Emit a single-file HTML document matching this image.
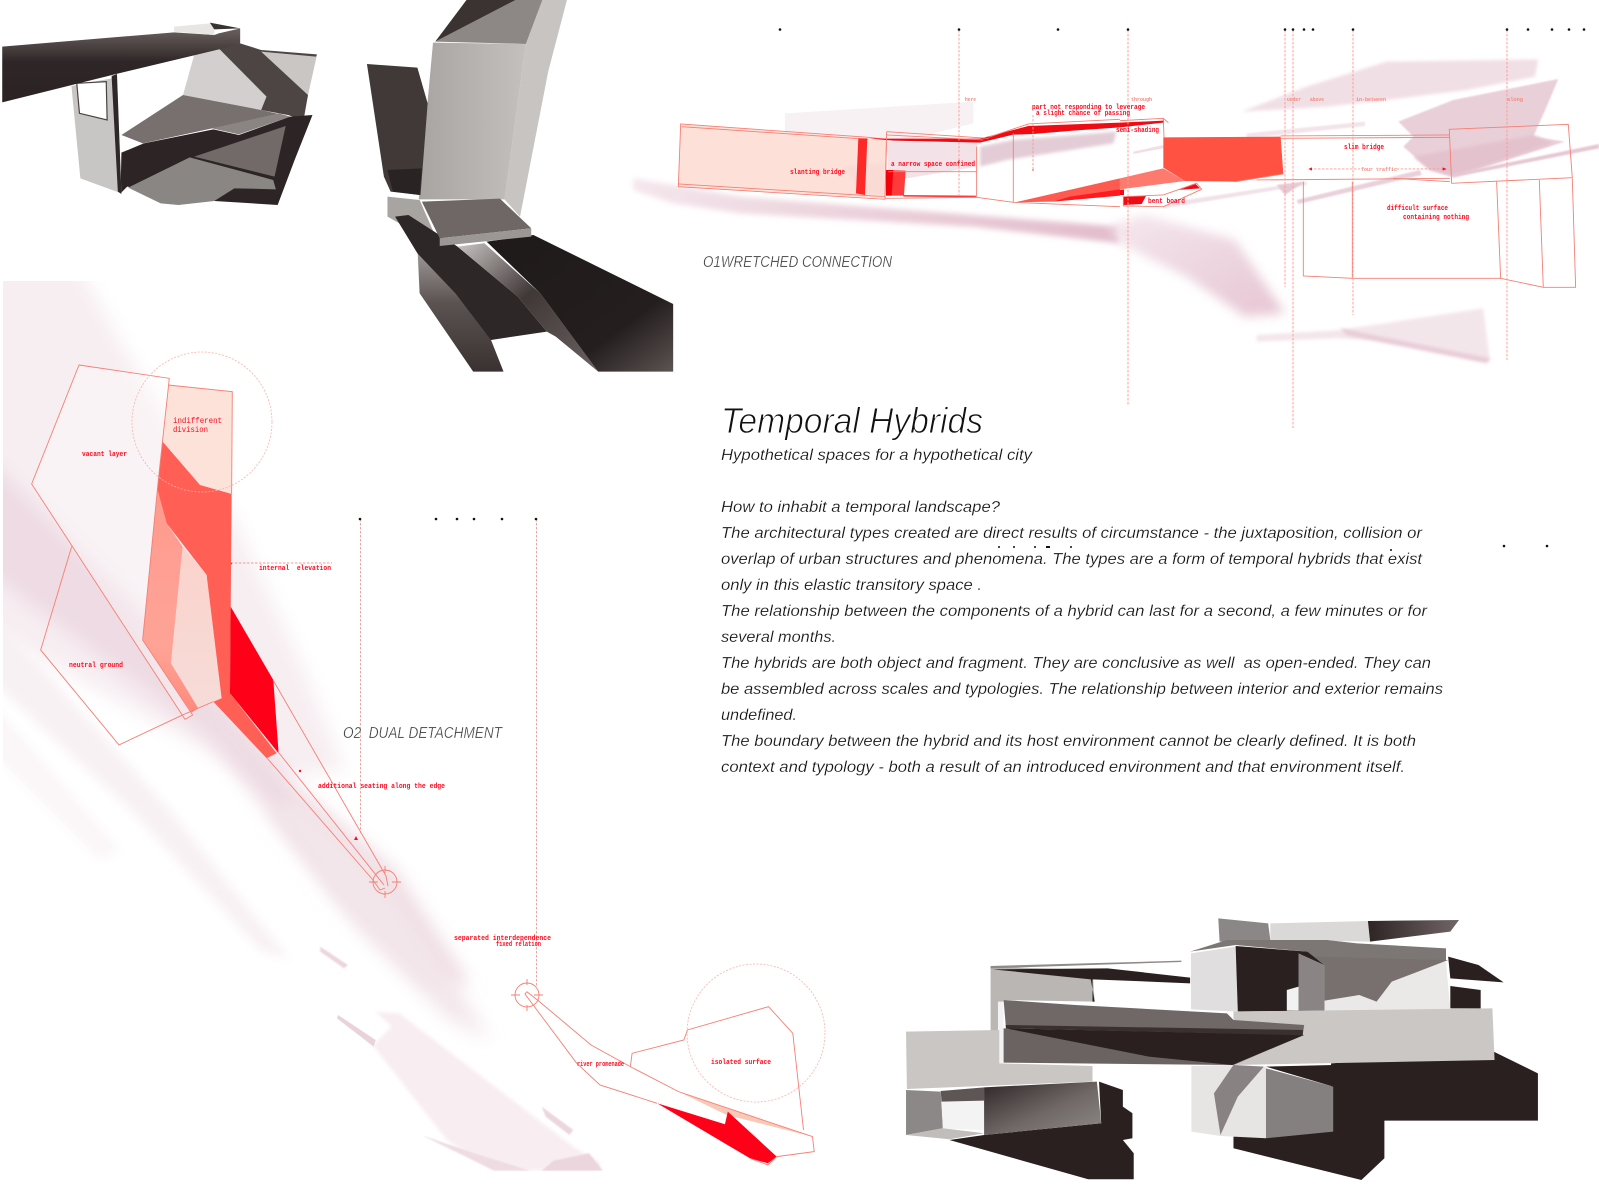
<!DOCTYPE html>
<html><head><meta charset="utf-8"><style>
html,body{margin:0;padding:0;background:#fff}
svg{display:block}
.o{fill:none;stroke:#f57f74;stroke-width:.9;vector-effect:non-scaling-stroke}
.d{fill:none;stroke:#f79a90;stroke-width:.9;stroke-dasharray:2.5 1.5;vector-effect:non-scaling-stroke}
.c{fill:none;stroke:#f8b3ac;stroke-width:.8;stroke-dasharray:2 1.5}
.m{font-family:"Liberation Mono",monospace;font-weight:700;fill:#ff0a1e;font-size:7px}
.p{font-family:"Liberation Mono",monospace;fill:#f58a7f;font-size:5.5px;font-weight:700}
.b{font-family:"Liberation Sans",sans-serif;font-style:italic;font-size:16px;fill:#111;stroke:#fff;stroke-width:.2}
.h{font-family:"Liberation Sans",sans-serif;font-style:italic;fill:#3a3a3a;stroke:#fff;stroke-width:.3}
</style></head><body>
<svg width="1599" height="1199" viewBox="0 0 1599 1199" xmlns="http://www.w3.org/2000/svg">
<defs>
<filter id="b2" x="-20%" y="-20%" width="140%" height="140%"><feGaussianBlur stdDeviation="2"/></filter>
<filter id="b5" x="-20%" y="-20%" width="140%" height="140%"><feGaussianBlur stdDeviation="5"/></filter>
<filter id="b9" x="-20%" y="-20%" width="140%" height="140%"><feGaussianBlur stdDeviation="9"/></filter>
<filter id="b16" x="-30%" y="-30%" width="160%" height="160%"><feGaussianBlur stdDeviation="16"/></filter>
<clipPath id="wc"><rect x="3" y="281" width="660" height="890"/></clipPath>
<linearGradient id="beamv" x1="0" y1="0" x2="0" y2="1"><stop offset="0" stop-color="#6b6060"/><stop offset=".45" stop-color="#2f2727"/><stop offset="1" stop-color="#2b2323"/></linearGradient>
<linearGradient id="grayv" x1="0" y1="0" x2="1" y2="0"><stop offset="0" stop-color="#a8a4a2"/><stop offset="1" stop-color="#c3c0be"/></linearGradient>
<linearGradient id="dk" x1="0" y1="0" x2="1" y2="1"><stop offset="0" stop-color="#c9c5c3"/><stop offset=".45" stop-color="#403737"/><stop offset="1" stop-color="#6a6260"/></linearGradient>
<linearGradient id="dk2" x1="0" y1="0" x2="1" y2="1"><stop offset="0" stop-color="#1f1a1a"/><stop offset=".7" stop-color="#241e1e"/><stop offset="1" stop-color="#5c5352"/></linearGradient>
<linearGradient id="side" x1="0" y1="0" x2="0" y2="1"><stop offset="0" stop-color="#a5a09e"/><stop offset=".45" stop-color="#5b5352"/><stop offset="1" stop-color="#3a3231"/></linearGradient>
<linearGradient id="sal" x1="0" y1="0" x2="0" y2="1"><stop offset="0" stop-color="#ff9a8e"/><stop offset=".7" stop-color="#ffa397"/><stop offset="1" stop-color="#ff8a7c"/></linearGradient>
<linearGradient id="pale" x1="0" y1="0" x2="0" y2="1"><stop offset="0" stop-color="#fbd2cb"/><stop offset="1" stop-color="#f6dcd8"/></linearGradient>
<linearGradient id="sw" x1="0" y1="0" x2="1" y2="0"><stop offset="0" stop-color="#2e2424"/><stop offset="1" stop-color="#716665"/></linearGradient>
<linearGradient id="ww" x1="0" y1="0" x2="1" y2="1"><stop offset="0" stop-color="#2e2626"/><stop offset=".55" stop-color="#6f6867"/><stop offset="1" stop-color="#8e8988"/></linearGradient>
<linearGradient id="st" x1="0" y1="0" x2="1" y2="0"><stop offset="0" stop-color="#f4e6ec"/><stop offset=".6" stop-color="#e9cbd6"/><stop offset="1" stop-color="#e2bccc"/></linearGradient>
<linearGradient id="blob" x1="0" y1="0" x2="1" y2="1"><stop offset="0" stop-color="#f5e8ee"/><stop offset=".6" stop-color="#ecd3dd"/><stop offset="1" stop-color="#e6c6d3"/></linearGradient>
</defs>

<!-- LEFT WASH -->
<g clip-path="url(#wc)">
<polygon fill="#f7eef2" points="-30,250 70,250 125,350 235,520 300,660 345,770 260,780 -30,620" filter="url(#b9)"/>
<polygon fill="#eedbe3" points="-30,440 120,590 300,790 395,870 470,985 430,985 340,900 210,740 -30,560" filter="url(#b9)"/>
<polygon fill="#f3e6ea" points="300,800 370,860 440,960 490,1040 450,1020 360,930 270,810" filter="url(#b9)"/>
<polygon fill="#f8f1f4" points="-10,610 170,810 290,960 260,950 130,810 -10,680" filter="url(#b5)"/>
<polygon fill="#fbf6f8" points="-10,700 120,850 100,860 -10,750" filter="url(#b5)"/>
<g transform="translate(0,800) scale(.3954,.3333)">
<polygon fill="#f8eef1" points="855,645 945,735 990,680 950,635 1010,640 1450,1040 1520,1090 1510,1112 1250,1112 1130,1020 945,740" filter="url(#b5)"/>
<polygon fill="#ecd6de" points="810,440 880,495 870,505 810,455" filter="url(#b2)"/>
<polygon fill="#e9d3db" points="855,645 950,720 945,740 852,655"/>
<polygon fill="#ecd6de" points="1370,920 1450,990 1440,1005 1380,950" filter="url(#b2)"/>
<polygon fill="#efdce3" points="1065,1005 1200,1060 1340,1112 1250,1112" filter="url(#b2)"/>
<polygon fill="#ecd6de" points="1370,1112 1400,1082 1490,1060 1525,1112" filter="url(#b2)"/>
</g>
</g>

<!-- TOP WASHES -->
<g transform="translate(640,0) scale(.3333,.3333)">
<polygon fill="#f8f1f4" points="435,340 1000,305 1000,370 800,420 435,400"/>
<polygon fill="url(#st)" points="-20,535 300,590 800,630 1440,680 1440,730 1000,680 300,640 100,610 -20,570" filter="url(#b9)"/>
<polygon fill="#e3ccd6" points="1020,440 1120,420 1430,395 1420,430 1100,480 1020,500" filter="url(#b5)"/>
<polygon fill="#f3dfe4" points="600,500 700,480 740,520 640,560" filter="url(#b5)"/>
</g>
<g transform="translate(1120,0) scale(.3333,.3333)">
<polygon fill="#f1dfe6" points="365,335 560,260 800,185 1255,178 1245,230 1040,270 800,300 620,320" filter="url(#b5)"/>
<polygon fill="#e9cfd8" points="835,365 1000,300 1315,237 1280,320 1240,410 1335,425 1000,530 930,510 850,440 880,410" filter="url(#b2)"/>
<polygon fill="#e3c2ce" points="880,470 1240,405 1300,430 1000,530 930,510" filter="url(#b5)"/>
<polygon fill="#e6c8d4" points="1000,522 1437,432 1437,445 1000,532" filter="url(#b2)"/>
<polygon fill="#e9d0da" points="530,600 900,510 905,525 535,612" filter="url(#b2)"/>
<polygon fill="#f0e0e6" points="40,455 130,435 130,445 40,462"/>
<polygon fill="#f1e2e8" points="130,610 560,545 560,555 130,625" filter="url(#b2)"/>
<polygon fill="#f2e4ea" points="380,400 735,365 735,378 380,415" filter="url(#b2)"/>
<polygon fill="#e6c9d4" points="470,555 555,545 495,585" filter="url(#b2)"/>
<polygon fill="url(#blob)" points="-30,680 70,645 345,720 495,940 375,950 200,830 0,730" filter="url(#b16)"/>
<polygon fill="#f3e6eb" points="410,1005 660,990 1090,925 1110,1085 760,1020 650,1015 410,1025" filter="url(#b5)"/>
<polygon fill="#e8ccd7" points="660,985 1110,1075 1100,1090 680,1005" filter="url(#b5)"/>
</g>

<!-- TOP LEFT MODELS -->
<g transform="scale(.4464,.3333)">
<polygon fill="#c9c6c4" points="585,155 710,165 690,285"/>
<polygon fill="#d2cfce" points="435,165 490,145 597,290 585,330 410,285"/>
<polygon fill="#4d4444" points="490,145 538,130 585,150 710,163 708,170 585,155 690,285 680,360 645,345 585,330 597,290"/>
<polygon fill="#77706e" points="410,285 585,330 645,348 475,385 320,430 272,405"/>
<polygon fill="#8a8583" points="475,385 625,340 650,350 535,403"/>
<polygon fill="#2d2525" points="272,458 322,430 478,388 535,405 650,350 700,345 660,480 622,615 480,603 285,560 270,580"/>
<polygon fill="#716a68" points="435,470 640,378 615,530"/>
<polygon fill="#8a8684" points="287,563 425,472 612,540 618,568 525,565 480,603 400,615 360,610"/>
<polygon fill="#c8c6c4" points="160,258 250,235 262,222 272,580 180,535"/>
<polygon fill="#2f2828" points="250,228 262,222 272,582 264,575"/>
<polygon fill="#fff" stroke="#4a4242" stroke-width="1.2" vector-effect="non-scaling-stroke" points="172,250 238,245 240,360 178,340"/>
<polygon fill="url(#beamv)" points="5,140 390,97 480,105 490,100 538,85 538,130 500,145 260,222 5,307"/>
<polygon fill="#e8e6e4" points="390,80 470,70 480,85 480,105 390,95"/>
<polygon fill="#3a3232" points="470,68 538,85 480,88"/>

<polygon fill="#c7c4c2" points="1178,132 1215,0 1270,0 1228,215 1165,650 1130,598"/>
<polygon fill="#8d8785" points="975,125 1090,45 1155,0 1215,0 1178,132"/>
<polygon fill="#3b3232" points="975,125 1045,0 1155,0 1090,45"/>
<polygon fill="url(#grayv)" points="970,128 1178,132 1130,598 938,598"/>
<polygon fill="#403938" points="822,192 935,203 958,310 942,585 875,575 860,530"/>
<polygon fill="#2a2323" points="868,510 945,505 940,585 880,575"/>
<polygon fill="#a8a4a2" points="868,590 940,600 985,738 868,650"/>
<polygon fill="url(#side)" points="935,740 1030,745 1100,1020 1128,1115 1060,1115 940,880"/>
<polygon fill="#2e2727" points="885,650 915,645 1025,740 1160,890 1225,995 1100,1020 1020,880 935,760"/>
<polygon fill="url(#dk)" points="1025,740 1085,730 1210,880 1340,1115 1245,1010 1225,995 1160,890"/>
<polygon fill="url(#dk2)" points="1090,725 1195,705 1508,912 1508,1115 1340,1115 1210,880"/>
<polygon fill="#6e6765" points="945,605 1120,596 1190,685 985,715"/>
<polygon fill="#9b9795" points="985,715 1190,685 1190,710 985,738"/>
</g>

<!-- BOTTOM MODEL -->
<g transform="translate(880,890) scale(.4337,.3333)">
<polygon fill="#2a2020" points="1040,520 1415,485 1517,550 1517,692 1163,692 1163,805 1110,870 815,775 815,740 1040,720"/>
<polygon fill="#2a2020" points="160,750 240,735 510,700 505,575 560,600 560,650 582,670 582,745 560,750 585,790 585,868 480,868"/>
<polygon fill="#2a2020" points="1310,200 1380,225 1438,277 1315,265"/>
<polygon fill="#2a2020" points="1315,288 1385,300 1385,355 1315,355"/>
<polygon fill="#8b8786" points="780,85 895,100 900,150 783,155"/>
<polygon fill="#dbd9d8" points="900,100 1125,93 1130,155 900,150"/>
<polygon fill="url(#sw)" points="1125,93 1335,90 1315,125 1130,155"/>
<polygon fill="#7c7675" points="715,185 800,150 1030,150 1100,160 1305,175 1305,210 1000,212 985,185 820,165"/>
<polygon fill="#e0dede" points="717,190 820,170 825,365 717,358"/>
<polygon fill="#2a2020" points="820,168 985,185 1025,225 1025,362 825,364"/>
<polygon fill="#8a8584" points="965,190 1025,225 1025,362 965,362"/>
<polygon fill="#f3f2f2" points="938,300 965,290 965,362 938,362"/>
<polygon fill="#ebe9e8" points="1025,225 1305,215 1315,358 1025,362"/>
<polygon fill="#77706f" points="1000,200 1310,210 1230,250 1180,275 1145,335 1105,315 1025,332 1025,225"/>
<polygon fill="#b9b6b4" points="255,230 490,240 495,335 285,330 275,425 255,425"/>
<polygon fill="#f3f2f2" points="272,335 285,335 285,520 272,520"/>
<polygon fill="#8f8a88" points="255,228 695,212 695,216 255,235"/>
<polygon fill="#2a2020" points="260,238 525,235 715,263 715,280 490,268 490,335 495,335 486,268"/>
<polygon fill="#cac7c5" points="815,365 1412,355 1417,510 815,525"/>
<polygon fill="#6a6362" points="285,415 975,435 815,525 285,518"/>
<polygon fill="#2a2020" points="290,415 978,435 812,525 620,500"/>
<polygon fill="#6f6866" points="285,330 450,345 800,370 815,390 978,405 975,432 290,408"/>
<polygon fill="#3a3030" points="290,405 975,420 975,436 290,415"/>
<polygon fill="#c9c6c4" points="60,425 275,420 275,520 490,528 490,575 62,597"/>
<polygon fill="#8c8887" points="60,600 140,605 145,715 60,735"/>
<polygon fill="#f4f3f3" points="142,635 240,632 240,720 145,716"/>
<polygon fill="#5e5655" points="140,603 240,592 240,632 142,635"/>
<polygon fill="url(#ww)" points="240,592 500,575 510,700 240,735"/>
<polygon fill="#c0bdbb" points="60,735 145,715 240,730 160,748"/>
<polygon fill="#e7e5e4" points="718,528 815,525 890,530 890,745 785,738 718,725"/>
<polygon fill="#858080" points="890,535 1045,590 1045,725 890,745"/>
<polygon fill="#2a2020" points="890,530 1045,525 1045,590"/>
<polygon fill="#888382" points="770,610 815,525 885,530 825,620 785,735"/>
</g>

<!-- DIAGRAM 1 -->
<g transform="translate(640,0) scale(.3333,.3333)">
<polygon fill="#fde1d9" points="122,372 685,415 740,418 735,595 115,560"/>
<polygon class="o" points="122,372 685,412 740,418 735,598 115,560"/>
<polyline class="o" points="125,380 685,418"/>
<polyline class="o" points="115,552 735,590"/>
<polygon fill="#f7d6d2" points="610,500 735,490 735,590 680,580 640,540" filter="url(#b5)" opacity=".6"/>
<polygon fill="#fff" points="745,425 1010,430 1010,590 745,585"/>
<polygon fill="#f3e3e9" points="740,425 1012,428 1012,500 800,535 745,515"/>
<polygon fill="#ff2828" points="655,415 682,415 675,585 648,580"/>
<polygon fill="#f00a14" points="685,415 740,416 1020,416 1165,378 1440,368 1440,382 1300,392 1180,402 1120,404 1020,428 760,422"/>
<polygon fill="#ff3a3a" points="738,510 797,512 792,587 738,587"/>
<polygon fill="#f4000a" points="738,510 760,510 755,587 738,587"/>
<polygon fill="#ff3b3b" points="790,585 1008,587 1008,592 790,590"/>
<polyline class="o" points="740,395 1045,415"/>
<polyline class="o" points="740,405 1030,420"/>
<polyline class="o" points="740,395 735,595 1010,592 1120,607 1440,620"/>
<polyline class="o" points="745,515 1010,515"/>
<polyline class="o" points="1010,440 1010,592"/>
<polyline class="o" points="1120,400 1120,607"/>
<polyline class="o" points="1045,412 1165,372 1440,358"/>
<polygon fill="#ff5a4f" points="1125,607 1440,535 1440,585 1240,605"/>
<polygon fill="#ff1a20" points="1290,590 1440,568 1440,587 1240,605"/>
</g>
<g transform="translate(1120,0) scale(.3333,.3333)">
<polyline class="o" points="0,362 130,355 145,368"/>
<polyline class="o" points="130,355 132,412"/>
<polygon fill="#f00a14" points="0,368 130,362 130,368 0,382"/>
<polygon fill="#ff5242" points="130,412 482,410 490,522 345,545 195,543 130,503"/>
<polygon fill="#ff7a6e" points="0,535 130,505 195,543 0,568"/>
<polygon fill="#fff" points="10,590 130,585 230,550 245,568 130,620 10,618"/>
<polygon fill="#f00a14" points="10,590 78,588 65,612 10,615"/>
<polygon fill="#f00a14" points="0,570 12,568 12,585 0,585"/>
<polygon fill="#f00a14" points="170,570 225,550 240,565"/>
<polygon class="o" points="10,590 130,585 230,550 245,568 130,620 10,618"/>
<polyline class="o" points="482,408 990,405"/>
<polyline class="o" points="482,415 990,412"/>
<polyline class="o" points="345,545 490,522"/>
<polyline class="o" points="410,540 990,535"/>
<polyline class="o" points="820,535 990,545"/>
<polygon class="o" points="988,388 1345,373 1357,533 995,550"/>
<polyline class="o" points="550,545 550,828 697,835 1142,835 1130,545"/>
<polyline class="o" points="697,545 697,835"/>
<polyline class="o" points="1142,835 1270,862 1367,862 1357,535"/>
<polyline class="o" points="1258,540 1270,862"/>
<polyline class="d" points="570,507 720,507"/>
<polyline class="d" points="830,507 972,507"/>
<polygon fill="#ff0a1e" points="565,507 576,502 576,512"/>
<polygon fill="#ff0a1e" points="980,507 968,502 968,512"/>
</g>

<!-- DASHED LEADERS -->
<g class="d">
<line x1="959" y1="30" x2="959" y2="195"/>
<line x1="1128" y1="30" x2="1128" y2="406"/>
<line x1="1285" y1="30" x2="1285" y2="287"/>
<line x1="1293" y1="30" x2="1293" y2="428"/>
<line x1="1353" y1="30" x2="1353" y2="315"/>
<line x1="1507" y1="30" x2="1507" y2="360"/>
<line x1="1033" y1="115" x2="1033" y2="170"/>
<line x1="360.5" y1="519" x2="360.5" y2="833"/>
<line x1="536.5" y1="519" x2="536.5" y2="987"/>
<line x1="231" y1="563" x2="332" y2="563"/>
</g>
<circle cx="1033" cy="170" r=".9" fill="#f4756a"/>
<circle cx="231" cy="563.5" r="1" fill="#ff0a1e"/>

<!-- DIAGRAM 2 -->
<g transform="translate(0,340) scale(.3333,.3333)">
<polygon fill="#fff" fill-opacity=".3" points="237,75 508,115 428,900 578,1125 555,1138 95,432"/>
<polygon fill="#fde2d9" points="505,135 697,155 695,462 600,435 488,300"/>
<polygon fill="#ff5f55" points="488,305 600,435 695,462 690,1060 830,1240 800,1255 640,1085 620,705 500,550 472,450"/>
<polygon fill="url(#sal)" points="473,450 500,550 548,620 513,970 595,1105 575,1118 428,900"/>
<polygon fill="url(#pale)" points="548,620 620,705 665,1075 595,1105 513,970"/>
<polygon fill="#ff0019" points="692,800 820,1020 836,1240 690,1060"/>
<polyline class="o" points="505,135 697,155 695,462"/>
<polygon class="o" points="237,75 508,115 475,420 428,900 578,1125 555,1138 95,432"/>
<polyline class="o" points="215,620 122,930 357,1215 548,1125"/>
<polyline class="o" points="640,1085 548,1125"/>
</g>
<circle class="c" cx="202" cy="422" r="70"/>
<polyline class="o" points="273,680 386,876 388,886"/>
<polyline class="o" points="267,758 373,880 380,890 385,888"/>
<polyline class="o" points="279,753 384,885"/>
<circle class="o" cx="385" cy="882" r="12"/>
<path class="o" d="M369 882H378M392 882H401M385 866V873M385 891V898"/>
<circle cx="300" cy="771" r="1.2" fill="#ff0a1e"/>
<polygon fill="#ff0a1e" points="356,836 358,840 354,840"/>

<circle class="c" cx="756" cy="1033" r="69"/>
<g transform="translate(300,720) scale(.3571,.3333)">
<polygon fill="#f9c9b8" points="1060,1115 1200,1165 1435,1250 1195,1185"/>
<polygon fill="#ff0019" points="1000,1150 1190,1213 1198,1175 1335,1310 1310,1330 1260,1315"/>
<polyline class="o" points="635,815 665,840 815,975 925,1040 1060,1115 1435,1250 1440,1295 1335,1310"/>
<polyline class="o" points="635,815 630,822 775,1030 840,1095 1000,1150"/>
<polyline class="o" points="925,1040 930,1000 1075,960 1085,930 1312,860 1380,940 1410,1230"/>
<polyline class="o" points="1260,1315 1310,1335 1335,1310"/>
</g>
<circle class="o" cx="527" cy="995" r="12"/>
<path class="o" d="M511 995H520M534 995H543M527 979V985M527 1005V1011"/>

<!-- DOTS -->
<g fill="#111">
<circle cx="780" cy="29.5" r="1.3"/><circle cx="959" cy="29.5" r="1.3"/><circle cx="1058" cy="29.5" r="1.3"/><circle cx="1128" cy="29.5" r="1.3"/>
<circle cx="1285" cy="29.5" r="1.3"/><circle cx="1293" cy="29.5" r="1.3"/><circle cx="1304" cy="29.5" r="1.3"/><circle cx="1313" cy="29.5" r="1.3"/>
<circle cx="1353" cy="29.5" r="1.3"/><circle cx="1507" cy="29.5" r="1.3"/><circle cx="1528" cy="29.5" r="1.3"/><circle cx="1552" cy="29.5" r="1.3"/>
<circle cx="1569" cy="29.5" r="1.3"/><circle cx="1584" cy="29.5" r="1.3"/>
<circle cx="360" cy="519" r="1.3"/><circle cx="436" cy="519" r="1.3"/><circle cx="457" cy="519" r="1.3"/><circle cx="474" cy="519" r="1.3"/><circle cx="502" cy="519" r="1.3"/><circle cx="536" cy="519" r="1.3"/>
<circle cx="999" cy="547" r="1"/><circle cx="1014" cy="547" r="1"/><circle cx="1035" cy="547" r="1"/><rect x="1046" y="546" width="4" height="2"/><circle cx="1071" cy="547" r="1"/><circle cx="1391" cy="550" r="1"/>
<circle cx="1504" cy="546" r="1.3"/><circle cx="1547" cy="546" r="1.3"/>
</g>

<!-- TEXT: body -->
<text x="721" y="433" font-family="'Liberation Sans',sans-serif" font-style="italic" font-size="36" fill="#111" stroke="#fff" stroke-width=".9" textLength="262" lengthAdjust="spacingAndGlyphs">Temporal Hybrids</text>
<text class="b" x="721" y="460" textLength="311" lengthAdjust="spacingAndGlyphs">Hypothetical spaces for a hypothetical city</text>
<text class="b" x="721" y="512" textLength="279" lengthAdjust="spacingAndGlyphs">How to inhabit a temporal landscape?</text>
<text class="b" x="721" y="538" textLength="701" lengthAdjust="spacingAndGlyphs">The architectural types created are direct results of circumstance - the juxtaposition, collision or</text>
<text class="b" x="721" y="564" textLength="701" lengthAdjust="spacingAndGlyphs">overlap of urban structures and phenomena. The types are a form of temporal hybrids that exist</text>
<text class="b" x="721" y="590" textLength="261" lengthAdjust="spacingAndGlyphs">only in this elastic transitory space .</text>
<text class="b" x="721" y="616" textLength="706" lengthAdjust="spacingAndGlyphs">The relationship between the components of a hybrid can last for a second, a few minutes or for</text>
<text class="b" x="721" y="642" textLength="115" lengthAdjust="spacingAndGlyphs">several months.</text>
<text class="b" x="721" y="668" textLength="710" lengthAdjust="spacingAndGlyphs" xml:space="preserve">The hybrids are both object and fragment. They are conclusive as well  as open-ended. They can</text>
<text class="b" x="721" y="694" textLength="722" lengthAdjust="spacingAndGlyphs">be assembled across scales and typologies. The relationship between interior and exterior remains</text>
<text class="b" x="721" y="720" textLength="76" lengthAdjust="spacingAndGlyphs">undefined.</text>
<text class="b" x="721" y="746" textLength="695" lengthAdjust="spacingAndGlyphs">The boundary between the hybrid and its host environment cannot be clearly defined. It is both</text>
<text class="b" x="721" y="772" textLength="684" lengthAdjust="spacingAndGlyphs">context and typology - both a result of an introduced environment and that environment itself.</text>

<text class="h" x="703" y="267" font-size="16" textLength="189" lengthAdjust="spacingAndGlyphs">O1WRETCHED CONNECTION</text>
<text class="h" x="343" y="738" font-size="16" textLength="159" lengthAdjust="spacingAndGlyphs" xml:space="preserve">O2  DUAL DETACHMENT</text>

<!-- TEXT: labels -->
<text class="m" x="790" y="174" textLength="55" lengthAdjust="spacingAndGlyphs">slanting bridge</text>
<text class="m" x="891" y="166" textLength="84" lengthAdjust="spacingAndGlyphs">a narrow space confined</text>
<text class="m" x="1032" y="109" textLength="113" lengthAdjust="spacingAndGlyphs">part not responding to leverage</text>
<text class="m" x="1036" y="115" textLength="94" lengthAdjust="spacingAndGlyphs">a slight chance of passing</text>
<text class="m" x="1116" y="132" textLength="43" lengthAdjust="spacingAndGlyphs">semi-shading</text>
<text class="m" x="1344" y="149" textLength="40" lengthAdjust="spacingAndGlyphs">slim bridge</text>
<text class="m" x="1148" y="203" textLength="37" lengthAdjust="spacingAndGlyphs">bent board</text>
<text class="m" x="1387" y="210" textLength="61" lengthAdjust="spacingAndGlyphs">difficult surface</text>
<text class="m" x="1403" y="219" textLength="66" lengthAdjust="spacingAndGlyphs">containing nothing</text>
<text class="p" x="965" y="101" textLength="11" lengthAdjust="spacingAndGlyphs">here</text>
<text class="p" x="1131" y="101" textLength="21" lengthAdjust="spacingAndGlyphs">through</text>
<text class="p" x="1287" y="101" textLength="14" lengthAdjust="spacingAndGlyphs">under</text>
<text class="p" x="1310" y="101" textLength="14" lengthAdjust="spacingAndGlyphs">above</text>
<text class="p" x="1356" y="101" textLength="30" lengthAdjust="spacingAndGlyphs">in-between</text>
<text class="p" x="1507" y="101" textLength="16" lengthAdjust="spacingAndGlyphs">along</text>
<text class="p" x="1361" y="171" textLength="36" lengthAdjust="spacingAndGlyphs">four traffic</text>
<text class="m" style="font-weight:400;font-size:8px" x="173" y="423" textLength="49" lengthAdjust="spacingAndGlyphs">indifferent</text>
<text class="m" style="font-weight:400;font-size:8px" x="173" y="432" textLength="35" lengthAdjust="spacingAndGlyphs">division</text>
<text class="m" x="82" y="456" textLength="45" lengthAdjust="spacingAndGlyphs">vacant layer</text>
<text class="m" x="259" y="570" textLength="72" lengthAdjust="spacingAndGlyphs" xml:space="preserve">internal  elevation</text>
<text class="m" x="69" y="667" textLength="54" lengthAdjust="spacingAndGlyphs">neutral ground</text>
<text class="m" x="318" y="788" textLength="127" lengthAdjust="spacingAndGlyphs">additional seating along the edge</text>
<text class="m" x="454" y="940" textLength="97" lengthAdjust="spacingAndGlyphs">separated interdependence</text>
<text class="m" x="496" y="946" textLength="45" lengthAdjust="spacingAndGlyphs">fixed relation</text>
<text class="m" x="577" y="1066" textLength="47" lengthAdjust="spacingAndGlyphs">river promenade</text>
<text class="m" x="711" y="1064" textLength="60" lengthAdjust="spacingAndGlyphs">isolated surface</text>
</svg>
</body></html>
